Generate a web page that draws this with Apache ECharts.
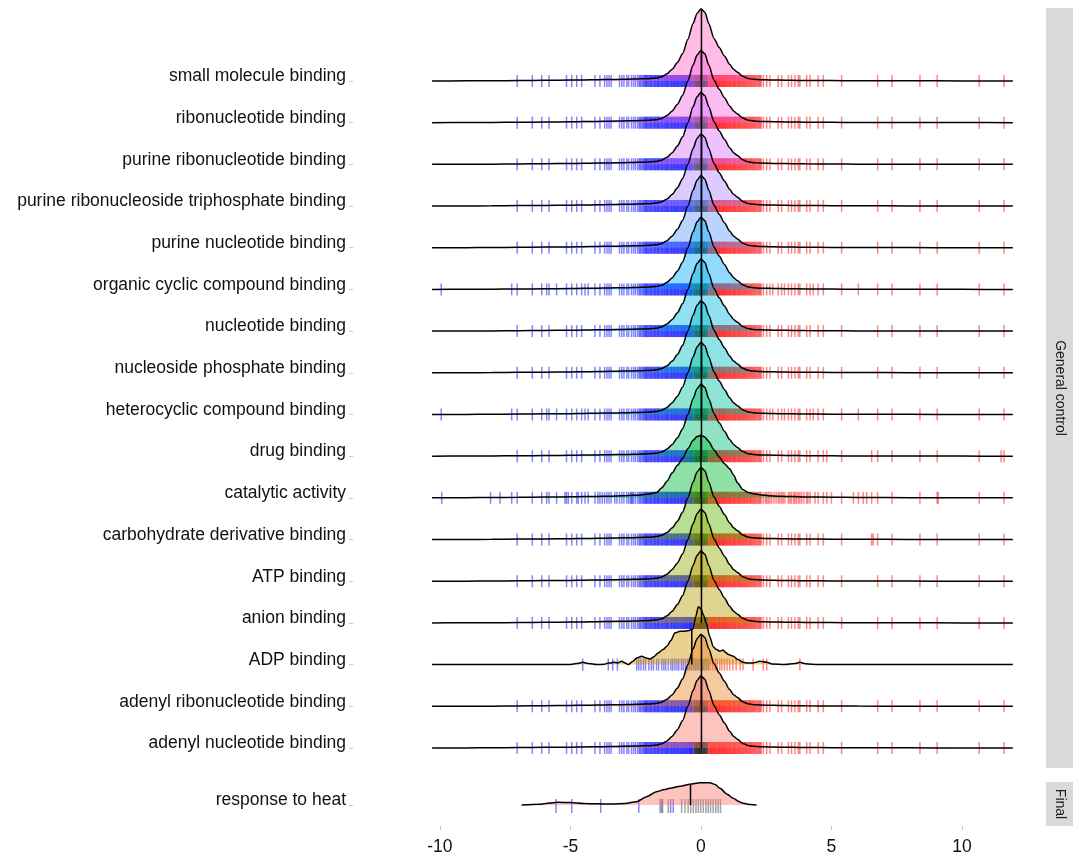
<!DOCTYPE html>
<html>
<head>
<meta charset="utf-8">
<script src="https://cdn.jsdelivr.net/npm/echarts@6/dist/echarts.min.js"></script>
<style>
  html, body { margin: 0; padding: 0; background: #fff; }
  #main { width: 1079px; height: 856px; }
</style>
</head>
<body>
<div id="main"></div>
<script>
// GO terms, bottom -> top (ridge baseline = index)
const terms = [
  'adenyl nucleotide binding', 'adenyl ribonucleotide binding', 'ADP binding', 'anion binding',
  'ATP binding', 'carbohydrate derivative binding', 'catalytic activity', 'drug binding',
  'heterocyclic compound binding', 'nucleoside phosphate binding', 'nucleotide binding',
  'organic cyclic compound binding', 'purine nucleotide binding',
  'purine ribonucleoside triphosphate binding', 'purine ribonucleotide binding',
  'ribonucleotide binding', 'small molecule binding'
];
const heatTerm = 'response to heat';
const fillColors = ['#F8766D', '#E88526', '#D39200', '#B79F00', '#93AA00', '#5EB300', '#00BA38',
  '#00BF74', '#00C19F', '#00BFC4', '#00B9E3', '#00ADFA', '#619CFF', '#AE87FF', '#DB72FB',
  '#F564E3', '#FF61C3'];
const medians = [0.02, 0.02, -0.35, 0.02, 0.02, 0.02, 0.0, 0.02, 0.02, 0.02, 0.02, 0.02, 0.02, 0.02, 0.02, 0.02, 0.02];
const heatMedian = -0.4;
const xTicks = [-10, -5, 0, 5, 10];

// density curves (height in row units)
const densX = [-10.3, -9, -8, -7, -6, -5, -4.5, -4, -3.5, -3, -2.6, -2.3, -2, -1.7, -1.5, -1.3, -1.1, -0.9,
  -0.7, -0.5, -0.3, -0.15, 0, 0.15, 0.3, 0.5, 0.7, 0.9, 1.1, 1.25, 1.4, 1.6, 1.8, 2.0, 2.3, 2.6, 3, 3.5,
  4, 5, 6, 8, 10, 11.95];
const commonDens = [0, 0.002, 0.004, 0.01, 0.015, 0.02, 0.025, 0.03, 0.035, 0.04, 0.045, 0.05, 0.055,
  0.07, 0.1, 0.17, 0.28, 0.44, 0.66, 1.0, 1.38, 1.62, 1.73, 1.65, 1.38, 1.02, 0.8, 0.6, 0.4, 0.28, 0.21,
  0.11, 0.06, 0.04, 0.03, 0.025, 0.02, 0.015, 0.012, 0.008, 0.005, 0.003, 0.001, 0];
const catalyticDens = [0, 0.004, 0.008, 0.012, 0.018, 0.024, 0.03, 0.035, 0.04, 0.05, 0.06, 0.07, 0.09,
  0.13, 0.24, 0.4, 0.6, 0.78, 0.95, 1.18, 1.38, 1.47, 1.5, 1.46, 1.35, 1.15, 0.98, 0.82, 0.7, 0.55, 0.36,
  0.2, 0.13, 0.1, 0.07, 0.05, 0.04, 0.03, 0.02, 0.015, 0.01, 0.005, 0.002, 0];
const adpX = [-10.3, -6, -5, -4.75, -4.53, -4.3, -4, -3.7, -3.55, -3.45, -3.36, -3.2, -3.04, -2.9, -2.78,
  -2.62, -2.46, -2.27, -2.1, -1.95, -1.8, -1.64, -1.45, -1.31, -1.15, -1.0, -0.8, -0.6, -0.45, -0.3, -0.2,
  -0.1, 0.0, 0.09, 0.2, 0.34, 0.47, 0.6, 0.72, 0.85, 0.95, 1.05, 1.24, 1.42, 1.61, 1.8, 2.0, 2.26, 2.52,
  2.75, 3.2, 3.6, 3.79, 4.0, 4.5, 8, 11.95];
const adpDens = [0, 0, 0.005, 0.024, 0.055, 0.024, 0, 0.007, 0.041, 0.036, 0.055, 0.041, 0.079, 0.036, 0,
  0.072, 0.16, 0.2, 0.156, 0.137, 0.19, 0.28, 0.36, 0.44, 0.58, 0.76, 0.8, 0.8, 0.82, 0.86, 1.15,
  1.39, 1.34, 1.2, 1.0, 0.67, 0.43, 0.36, 0.32, 0.35, 0.29, 0.24, 0.2, 0.12, 0.055, 0.036, 0.041, 0.079, 0.055,
  0.012, 0, 0.024, 0.055, 0.02, 0, 0, 0];
const heatX = [-6.87, -6.2, -5.8, -5.5, -5.0, -4.5, -4.0, -3.4, -2.9, -2.46, -2.08, -1.7, -1.4, -1.19, -0.8,
  -0.42, -0.04, 0.34, 0.55, 0.73, 1.0, 1.24, 1.45, 1.62, 1.9, 2.13];
const heatDens = [0, 0.017, 0.048, 0.065, 0.06, 0.036, 0.029, 0.024, 0.036, 0.079, 0.2, 0.32, 0.37, 0.4, 0.45,
  0.5, 0.535, 0.535, 0.49, 0.4, 0.26, 0.16, 0.084, 0.041, 0.01, 0];

// rug ticks (log fold change of genes in each term)
const baseBlue = [-7.04, -6.46, -6.1, -5.82, -5.15, -4.95, -4.76, -4.57, -4.06, -3.87, -3.69, -3.6, -3.52,
  -3.44, -3.12, -3.03, -2.95, -2.84, -2.77, -2.66, -2.58, -2.51, -2.43, -2.37, -2.29, -2.24, -2.17, -2.11,
  -2.06, -1.99, -1.93, -1.88, -1.81, -1.76, -1.7, -1.64, -1.6, -1.53, -1.48, -1.42, -1.37, -1.31, -1.27,
  -1.21, -1.15, -1.11, -1.05, -1.0, -0.96, -0.9, -0.86, -0.8, -0.75, -0.71, -0.66, -0.61, -0.57, -0.52,
  -0.47, -0.43, -0.39, -0.35, -0.31];
const coreBlue = [-2.33, -2.2, -2.13, -2.08, -2.02, -1.96, -1.9, -1.84, -1.78, -1.73, -1.67, -1.62, -1.56,
  -1.5, -1.45, -1.39, -1.34, -1.29, -1.24, -1.18, -1.13, -1.08, -1.03, -0.98, -0.93, -0.88, -0.83, -0.78,
  -0.73, -0.68, -0.63, -0.59, -0.54, -0.5, -0.45, -0.41, -0.37, -0.33];
const baseBlack = [-0.27, -0.23, -0.2, -0.16, -0.13, -0.09, -0.06, -0.03, 0.0, 0.03, 0.06, 0.1, 0.13, 0.17, 0.21, 0.25];
const coreBlack = [-0.25, -0.18, -0.11, -0.05, 0.01, 0.08, 0.15, 0.23];
const baseRed = [0.29, 0.33, 0.38, 0.42, 0.47, 0.51, 0.56, 0.6, 0.65, 0.7, 0.74, 0.79, 0.84, 0.88, 0.93,
  0.98, 1.03, 1.08, 1.13, 1.18, 1.24, 1.29, 1.34, 1.4, 1.46, 1.51, 1.57, 1.63, 1.69, 1.75, 1.81, 1.88, 1.94,
  2.01, 2.08, 2.16, 2.24, 2.31, 2.39, 2.52, 2.64, 2.96, 3.09, 3.35, 3.47, 3.6, 3.73, 3.79, 4.05, 4.18, 4.49,
  4.69, 5.39, 6.77, 7.32, 8.39, 9.05, 10.66, 11.61];
const coreRed = [0.31, 0.36, 0.4, 0.45, 0.49, 0.54, 0.58, 0.63, 0.68, 0.72, 0.77, 0.81, 0.86, 0.9, 0.95,
  1.0, 1.05, 1.1, 1.15, 1.21, 1.26, 1.31, 1.37, 1.43, 1.48, 1.54, 1.6, 1.66, 1.72, 1.78, 1.85, 1.91, 1.98,
  2.05, 2.12, 2.2, 2.27];
const catalyticBlue = [-9.93, -8.06, -7.7, -7.25, -5.91, -5.53, -5.21, -5.08, -4.7, -4.44, -4.32, -3.95,
  -3.78, -3.3, -3.22, -2.7, -2.63];
const catalyticRed = [2.47, 2.58, 2.71, 2.8, 2.88, 3.02, 3.15, 3.22, 3.41, 3.55, 3.66, 3.86, 3.95, 4.1,
  4.37, 4.82, 5.0, 5.84, 6.03, 6.22, 6.35, 6.54, 9.09];
const cyclicBlue = [-9.95, -7.25, -5.91, -5.53, -4.44, -4.32];
const cyclicRed = [2.75, 3.2, 4.3, 6.03];
const drugRed = [4.82, 6.54, 11.5];
const carbRed = [6.6, 6.54];
const adpBlue = [-4.53, -3.55, -3.38, -3.2, -2.46, -2.38, -2.3, -2.2, -2.12, -2.0, -1.9, -1.82, -1.7, -1.62,
  -1.5, -1.42, -1.35, -1.25, -1.15, -1.08, -1.0, -0.92, -0.85, -0.75, -0.68, -0.6, -0.52];
const adpBlack = [-0.45, -0.38, -0.3, -0.22, -0.15, -0.08, 0.0, 0.06, 0.12, 0.2, 0.28];
const adpRed = [0.36, 0.45, 0.55, 0.62, 0.72, 0.8, 0.9, 1.0, 1.1, 1.22, 1.35, 1.5, 1.61, 2.0, 2.39, 2.52, 3.79];
const heatBlue = [-5.55, -4.95, -3.84, -2.38, -1.51, -1.16, -1.06];
const heatGrey = [-1.57, -1.47, -1.25, -0.74, -0.61, -0.49, -0.39, -0.29, -0.19, -0.1, -0.01, 0.09, 0.19,
  0.28, 0.37, 0.47, 0.57, 0.66, 0.75];

const FONT = '"Liberation Sans", Arial, sans-serif';
const X_MIN = -13.33, X_MAX = 12.99;

function withAlpha(hex, a) {
  const n = parseInt(hex.slice(1), 16);
  return 'rgba(' + (n >> 16) + ',' + ((n >> 8) & 255) + ',' + (n & 255) + ',' + a + ')';
}

function interp(xs, ys, x) {
  for (let k = 1; k < xs.length; k++) {
    if (x <= xs[k]) {
      const t = (x - xs[k - 1]) / (xs[k] - xs[k - 1]);
      return ys[k - 1] + t * (ys[k] - ys[k - 1]);
    }
  }
  return ys[ys.length - 1];
}

// rug: vertical bars centred on baseline
function rugSeries(groups, y, g, h, off) {
  const data = [];
  groups.forEach(function (grp) {
    grp.vals.forEach(function (v) {
      data.push({ value: [v, y], itemStyle: { color: grp.color } });
    });
  });
  return {
    type: 'scatter', xAxisIndex: g, yAxisIndex: g, silent: true,
    symbol: 'rect', symbolSize: [1.5, h], symbolOffset: [0, off || 0],
    data: data
  };
}

function ridgeSeries(xs, ys, y, color, g) {
  return {
    type: 'line', xAxisIndex: g, yAxisIndex: g, silent: true,
    showSymbol: false, smooth: 0.25, smoothMonotone: 'x',
    data: xs.map(function (x, k) { return [x, y + ys[k]]; }),
    lineStyle: { color: '#000', width: 1.5 },
    areaStyle: { color: withAlpha(color, 0.62), origin: y }
  };
}

function medianSeries(m, y, h, g) {
  return {
    type: 'line', xAxisIndex: g, yAxisIndex: g, silent: true, showSymbol: false,
    data: [[m, y], [m, y + h]],
    lineStyle: { color: '#000', width: 1.5 }
  };
}

const BLUE = 'rgba(0,0,255,0.6)', RED = 'rgba(255,0,0,0.6)', BLACK = 'rgba(0,0,0,0.6)';

const series = [];
for (let i = terms.length - 1; i >= 0; i--) {
  const t = terms[i];
  let blue = baseBlue.concat(coreBlue), black = baseBlack.concat(coreBlack), red = baseRed.concat(coreRed);
  let dx = densX, dy = commonDens;
  if (t === 'ADP binding') {
    blue = adpBlue; black = adpBlack; red = adpRed; dx = adpX; dy = adpDens;
  } else if (t === 'catalytic activity') {
    blue = blue.concat(catalyticBlue); red = red.concat(catalyticRed); dy = catalyticDens;
  } else if (t === 'organic cyclic compound binding' || t === 'heterocyclic compound binding') {
    blue = blue.concat(cyclicBlue); red = red.concat(cyclicRed);
  } else if (t === 'drug binding') {
    red = red.concat(drugRed);
  } else if (t === 'carbohydrate derivative binding') {
    red = red.concat(carbRed);
  }
  series.push(ridgeSeries(dx, dy, i, fillColors[i], 0));
  series.push(rugSeries([{ vals: blue, color: BLUE }, { vals: black, color: BLACK }, { vals: red, color: RED }], i, 0, 12));
  series.push(medianSeries(medians[i], i, interp(dx, dy, medians[i]), 0));
}
// Final panel
series.push(ridgeSeries(heatX, heatDens, 0, fillColors[0], 1));
series.push(rugSeries([{ vals: heatBlue, color: BLUE }, { vals: heatGrey, color: 'rgba(0,0,0,0.45)' }], 0, 1, 14, 1));
series.push(medianSeries(heatMedian, 0, interp(heatX, heatDens, heatMedian), 1));

const rowIdx = terms.map(function (_, i) { return i; });
const labelStyle = { fontSize: 17.5, color: '#111', fontFamily: FONT };

const chart = echarts.init(document.getElementById('main'));
chart.setOption({
  animation: false,
  backgroundColor: '#fff',
  grid: [
    { left: 353, right: 39, top: 8, height: 760 },
    { left: 353, right: 39, top: 782, height: 44 }
  ],
  xAxis: [
    { gridIndex: 0, type: 'value', min: X_MIN, max: X_MAX, show: false },
    {
      gridIndex: 1, type: 'value', min: X_MIN, max: X_MAX, position: 'bottom',
      axisLine: { show: false, onZero: false }, splitLine: { show: false },
      axisTick: { show: true, customValues: xTicks, length: 4, lineStyle: { color: '#c8c8c8' } },
      axisLabel: Object.assign({ customValues: xTicks, margin: 12 }, labelStyle)
    }
  ],
  yAxis: [
    {
      gridIndex: 0, type: 'value', min: -0.48, max: 17.75, position: 'left',
      axisLine: { show: false, onZero: false }, splitLine: { show: false },
      axisTick: { show: true, customValues: rowIdx, length: 4, lineStyle: { color: '#c8c8c8' } },
      axisLabel: Object.assign({
        customValues: rowIdx, margin: 7, verticalAlign: 'bottom', lineHeight: 9,
        formatter: function (v) { return terms[Math.round(v)]; }
      }, labelStyle)
    },
    {
      gridIndex: 1, type: 'value', min: -0.504, max: 0.552, position: 'left',
      axisLine: { show: false, onZero: false }, splitLine: { show: false },
      axisTick: { show: true, customValues: [0], length: 4, lineStyle: { color: '#c8c8c8' } },
      axisLabel: Object.assign({
        customValues: [0], margin: 7, verticalAlign: 'bottom', lineHeight: 9,
        formatter: function () { return heatTerm; }
      }, labelStyle)
    }
  ],
  graphic: [
    { type: 'rect', shape: { x: 1046, y: 8, width: 27, height: 760 }, style: { fill: '#d9d9d9' } },
    { type: 'text', x: 1059.5, y: 388, rotation: -Math.PI / 2,
      style: { text: 'General control', font: '14px ' + FONT, fill: '#1a1a1a', align: 'center', verticalAlign: 'middle' } },
    { type: 'rect', shape: { x: 1046, y: 782, width: 27, height: 44 }, style: { fill: '#d9d9d9' } },
    { type: 'text', x: 1059.5, y: 804, rotation: -Math.PI / 2,
      style: { text: 'Final', font: '14px ' + FONT, fill: '#1a1a1a', align: 'center', verticalAlign: 'middle' } }
  ],
  series: series
});
</script>
</body>
</html>
